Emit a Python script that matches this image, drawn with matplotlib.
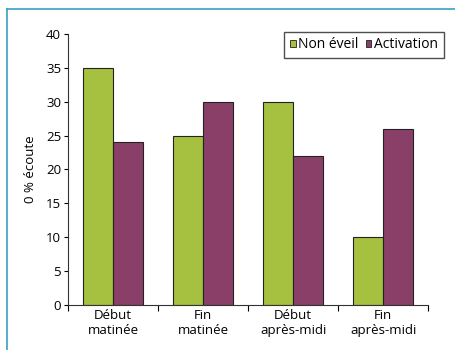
import matplotlib
matplotlib.use('Agg')
import matplotlib.pyplot as plt
import numpy as np
from matplotlib.lines import Line2D

categories = ['Début\nmatinée', 'Fin\nmatinée', 'Début\naprès-midi', 'Fin\naprès-midi']
non_eveil = [35, 25, 30, 10]
activation = [24, 30, 22, 26]

plt.rcParams['font.family'] = ['Open Sans', 'DejaVu Sans']

green = '#a5c13f'
purple = '#8a3f69'

fig = plt.figure(figsize=(4.55, 3.5), dpi=100)
ax = fig.add_axes([0.1495, 0.129, 0.792, 0.774])

x = np.arange(len(categories))
w = 1 / 3
ax.bar(x - w / 2, non_eveil, w, color=green, edgecolor='#222222', linewidth=0.8, label='Non éveil')
ax.bar(x + w / 2, activation, w, color=purple, edgecolor='#222222', linewidth=0.8, label='Activation')

ax.set_xlim(-0.5, len(categories) - 0.5)
ax.set_ylim(0, 40)
ax.set_yticks(range(0, 41, 5))
ax.set_xticks(x)
ax.set_xticklabels(categories, fontsize=9.5, linespacing=1.2)
ax.tick_params(axis='x', length=0, pad=3)
ax.set_xticks(np.arange(-0.5, len(categories), 1), minor=True)
ax.tick_params(axis='x', which='minor', length=4, direction='out', width=0.8)
ax.tick_params(axis='y', labelsize=9.5, length=3, width=0.8, direction='out', pad=2)
ax.set_ylabel('0 % écoute', fontsize=9.5, labelpad=6)

for s in ['top', 'right']:
    ax.spines[s].set_visible(False)
for s in ['left', 'bottom']:
    ax.spines[s].set_linewidth(0.8)
    ax.spines[s].set_color('#333333')

leg = ax.legend(loc='upper right', ncol=2, fontsize=10, frameon=True, fancybox=False,
                handlelength=0.4, handleheight=0.4, handletextpad=0.2, columnspacing=0.5,
                borderpad=0.4, borderaxespad=0, bbox_to_anchor=(1.042, 1.008))
leg.get_frame().set_edgecolor('#222222')
leg.get_frame().set_linewidth(1.0)
for h in leg.legend_handles:
    h.set_edgecolor('#222222')
    h.set_linewidth(0.6)

# frame around the figure (top and left visible)
fig.add_artist(Line2D([6.5 / 455, 1.0], [1 - 9 / 350, 1 - 9 / 350], color='#3a9fc6', linewidth=1.2,
                      transform=fig.transFigure))
fig.add_artist(Line2D([6.5 / 455, 6.5 / 455], [1 - 9 / 350, 0], color='#3a9fc6', linewidth=1.2,
                      transform=fig.transFigure))

plt.savefig('out.png', dpi=100)
